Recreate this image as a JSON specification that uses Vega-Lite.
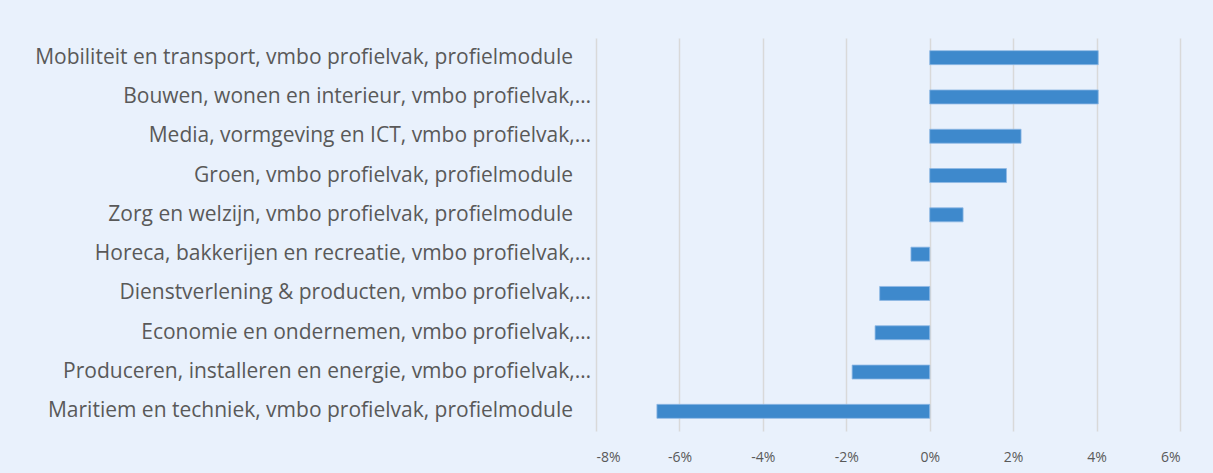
{
  "$schema": "https://vega.github.io/schema/vega-lite/v6.json",
  "width": 584,
  "height": 393,
  "autosize": {"type": "none"},
  "padding": {"left": 596, "top": 38, "right": 33, "bottom": 42},
  "background": "#e9f1fc",
  "config": {
    "view": {"stroke": null},
    "font": "Open Sans"
  },
  "data": {
    "values": [
      {"profiel": "Mobiliteit en transport, vmbo profielvak, profielmodule", "verschil": 0.0404},
      {"profiel": "Bouwen, wonen en interieur, vmbo profielvak,…", "verschil": 0.0404},
      {"profiel": "Media, vormgeving en ICT, vmbo profielvak,…", "verschil": 0.0219},
      {"profiel": "Groen, vmbo profielvak, profielmodule", "verschil": 0.0184},
      {"profiel": "Zorg en welzijn, vmbo profielvak, profielmodule", "verschil": 0.008},
      {"profiel": "Horeca, bakkerijen en recreatie, vmbo profielvak,…", "verschil": -0.0045},
      {"profiel": "Dienstverlening & producten, vmbo profielvak,…", "verschil": -0.012},
      {"profiel": "Economie en ondernemen, vmbo profielvak,…", "verschil": -0.0131},
      {"profiel": "Produceren, installeren en energie, vmbo profielvak,…", "verschil": -0.0186},
      {"profiel": "Maritiem en techniek, vmbo profielvak, profielmodule", "verschil": -0.0654}
    ]
  },
  "encoding": {
    "y": {
      "field": "profiel",
      "type": "nominal",
      "sort": null,
      "title": null,
      "scale": {"paddingInner": 0.644, "paddingOuter": 0.322},
      "axis": {"domain": false, "ticks": false, "labels": false}
    }
  },
  "layer": [
    {
      "mark": {"type": "bar", "color": "#3e89cc", "stroke": "#8fb9e4", "strokeWidth": 0.8},
      "encoding": {
        "x": {
          "field": "verschil",
          "type": "quantitative",
          "title": null,
          "scale": {"domain": [-0.08, 0.06], "nice": false, "zero": false},
          "axis": {
            "values": [-0.08, -0.06, -0.04, -0.02, 0, 0.02, 0.04, 0.06],
            "format": ".0%",
            "labelExpr": "replace(datum.label, '−', '-')",
            "domain": false,
            "ticks": false,
            "grid": true,
            "gridColor": "#d9d9d9",
            "gridWidth": 1.5,
            "labelPadding": 19,
            "labelFontSize": 14,
            "labelColor": "#595959"
          }
        }
      }
    },
    {
      "mark": {
        "type": "text",
        "align": "right",
        "baseline": "middle",
        "fontSize": 21,
        "color": "#595959",
        "dx": {"expr": "indexof(datum.profiel, '…') >= 0 ? -5 : -23"}
      },
      "encoding": {
        "x": {"datum": -0.08, "type": "quantitative"},
        "text": {"field": "profiel"}
      }
    }
  ]
}
